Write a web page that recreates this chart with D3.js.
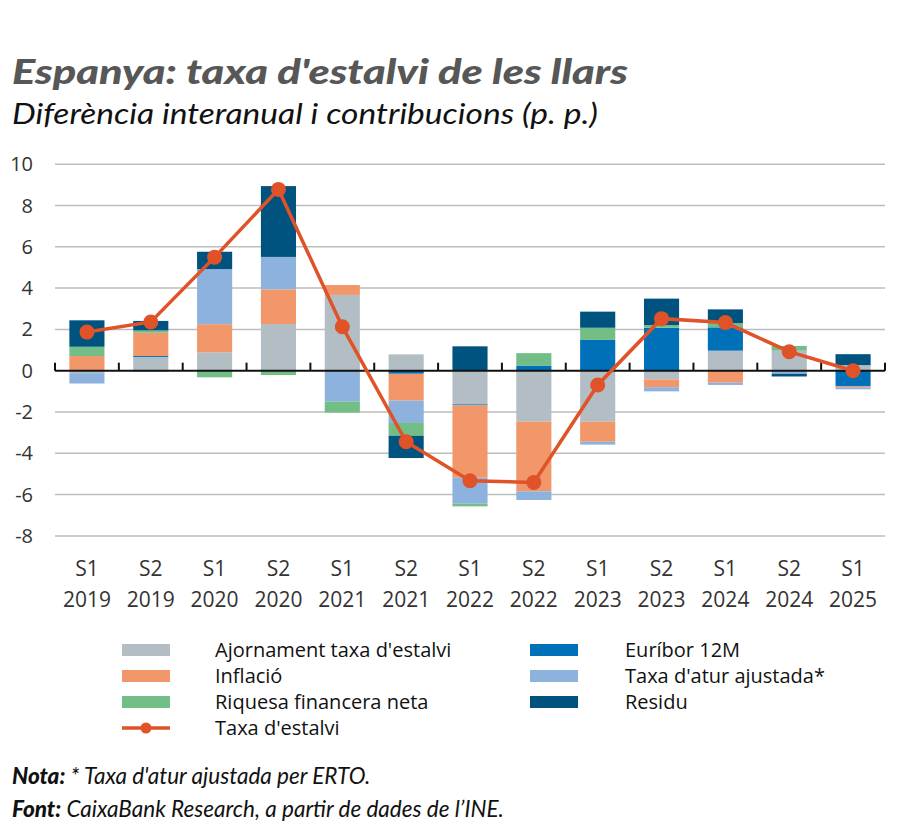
<!DOCTYPE html>
<html><head><meta charset="utf-8">
<script src="https://cdn.jsdelivr.net/npm/d3@7"></script>
<style>
body{margin:0;background:#fff;}
svg{display:block;}
</style></head>
<body>
<script>
const categories = ["S1 2019","S2 2019","S1 2020","S2 2020","S1 2021","S2 2021","S1 2022","S2 2022","S1 2023","S2 2023","S1 2024","S2 2024","S1 2025"];
const ajornament = [-0.12, 0.66, 0.89, 2.26, 3.67, 0.79, -1.63, -2.47, -2.47, -0.42, 0.97, 0.97, 0.27];
const euribor    = [0, 0.05, 0, 0, 0, -0.15, -0.05, 0.25, 1.49, 2.08, 1.13, 0, -0.74];
const inflacio   = [0.71, 1.13, 1.36, 1.68, 0.48, -1.3, -3.5, -3.37, -0.97, -0.38, -0.58, 0, -0.06];
const atur       = [-0.5, -0.05, 2.67, 1.57, -1.5, -1.08, -1.26, -0.42, -0.14, -0.2, -0.11, -0.15, -0.1];
const riquesa    = [0.45, 0.11, -0.32, -0.21, -0.53, -0.62, -0.13, 0.6, 0.59, 0.13, 0.2, 0.23, 0];
const residu     = [1.28, 0.46, 0.84, 3.43, 0, -1.08, 1.18, 0, 0.78, 1.28, 0.67, -0.13, 0.53];
const taxaEstalvi = [1.87, 2.36, 5.5, 8.78, 2.13, -3.44, -5.33, -5.41, -0.69, 2.52, 2.33, 0.92, 0.0];
const yTicks = [10, 8, 6, 4, 2, 0, -2, -4, -6, -8];

const seriesKeys = ["ajornament","euribor","inflacio","atur","riquesa","residu"];
const seriesData = {ajornament, euribor, inflacio, atur, riquesa, residu};
const seriesNames = {ajornament:"Ajornament taxa d'estalvi", inflacio:"Inflació", riquesa:"Riquesa financera neta", euribor:"Euríbor 12M", atur:"Taxa d'atur ajustada*", residu:"Residu"};
const colors = {ajornament:"#b3bec4", inflacio:"#f2976a", riquesa:"#72be86", euribor:"#0071b9", atur:"#8db2de", residu:"#00537f"};
const lineColor = "#e05228";

const W = 900, H = 833;
const svg = d3.select("body").append("svg").attr("width", W).attr("height", H);

// Title
svg.append("text").attr("x", 12).attr("y", 84)
  .attr("font-family", "Lato, 'Open Sans', sans-serif").attr("font-weight", 900).attr("font-style", "italic")
  .attr("font-size", 35).attr("fill", "#575757")
  .attr("textLength", 616).attr("lengthAdjust", "spacingAndGlyphs")
  .text("Espanya: taxa d'estalvi de les llars");
svg.append("text").attr("x", 12).attr("y", 124)
  .attr("font-family", "Lato, 'Open Sans', sans-serif").attr("font-style", "italic")
  .attr("font-size", 28).attr("fill", "#111")
  .attr("textLength", 586).attr("lengthAdjust", "spacingAndGlyphs")
  .text("Diferència interanual i contribucions (p. p.)");

const x0 = 55, x1 = 885;
const x = d3.scaleBand().domain(categories).range([x0, x1]).paddingInner(0.45).paddingOuter(0.225);
const y = d3.scaleLinear().domain([-8, 10]).range([535.9, 164.2]);

// gridlines
svg.append("g").selectAll("line").data(yTicks.filter(d => d !== 0)).join("line")
  .attr("x1", x0).attr("x2", x1).attr("y1", d => y(d)).attr("y2", d => y(d))
  .attr("stroke", "#bdbdbd").attr("stroke-width", 1.5);

// y labels
svg.append("g").selectAll("text").data(yTicks).join("text")
  .attr("x", 33).attr("y", d => y(d) + 7).attr("text-anchor", "end")
  .attr("font-family", "'Open Sans', sans-serif").attr("font-size", 20).attr("fill", "#333")
  .text(d => d);

// stacked bars
const rows = categories.map((c, i) => {
  const r = {cat: c};
  seriesKeys.forEach(k => r[k] = seriesData[k][i]);
  return r;
});
const stack = d3.stack().keys(seriesKeys).offset(d3.stackOffsetDiverging)(rows);
svg.append("g").selectAll("g").data(stack).join("g")
  .attr("fill", d => colors[d.key])
  .selectAll("rect").data(d => d).join("rect")
  .attr("x", d => x(d.data.cat)).attr("width", x.bandwidth())
  .attr("y", d => y(Math.max(d[0], d[1])))
  .attr("height", d => Math.abs(y(d[0]) - y(d[1])));

// zero axis
const step = x.step();
svg.append("line").attr("x1", x0).attr("x2", x1).attr("y1", y(0)).attr("y2", y(0))
  .attr("stroke", "#111").attr("stroke-width", 2);
svg.append("g").selectAll("line").data(d3.range(categories.length + 1)).join("line")
  .attr("x1", i => x0 + i * step).attr("x2", i => x0 + i * step)
  .attr("y1", y(0)).attr("y2", y(0) - 8)
  .attr("stroke", "#111").attr("stroke-width", 2);

// x labels
const xl = svg.append("g").selectAll("text").data(categories).join("text")
  .attr("text-anchor", "middle")
  .attr("font-family", "'Open Sans', sans-serif").attr("font-size", 21).attr("fill", "#333");
xl.append("tspan").attr("x", d => x(d) + x.bandwidth() / 2).attr("y", 576).text(d => d.split(" ")[0]);
xl.append("tspan").attr("x", d => x(d) + x.bandwidth() / 2).attr("y", 607).text(d => d.split(" ")[1]);

// line
const cx = c => x(c) + x.bandwidth() / 2;
svg.append("path").datum(taxaEstalvi)
  .attr("fill", "none").attr("stroke", lineColor).attr("stroke-width", 3.5)
  .attr("d", d3.line().x((d, i) => cx(categories[i])).y(d => y(d)));
svg.append("g").selectAll("circle").data(taxaEstalvi).join("circle")
  .attr("cx", (d, i) => cx(categories[i])).attr("cy", d => y(d)).attr("r", 7.5)
  .attr("fill", lineColor);

// legend
const legendLeft = ["ajornament","inflacio","riquesa"];
const legendRight = ["euribor","atur","residu"];
const lg = svg.append("g").attr("font-family", "'Open Sans', sans-serif").attr("font-size", 20).attr("fill", "#111");
const rowsY = [650, 676, 702, 728];
legendLeft.forEach((k, i) => {
  lg.append("rect").attr("x", 122).attr("y", rowsY[i] - 6).attr("width", 48).attr("height", 12).attr("fill", colors[k]);
  lg.append("text").attr("x", 215).attr("y", rowsY[i] + 7).text(seriesNames[k]);
});
legendRight.forEach((k, i) => {
  lg.append("rect").attr("x", 530).attr("y", rowsY[i] - 6).attr("width", 48).attr("height", 12).attr("fill", colors[k]);
  lg.append("text").attr("x", 625).attr("y", rowsY[i] + 7).text(seriesNames[k]);
});
lg.append("line").attr("x1", 122).attr("x2", 170).attr("y1", rowsY[3]).attr("y2", rowsY[3]).attr("stroke", lineColor).attr("stroke-width", 3.5);
lg.append("circle").attr("cx", 146).attr("cy", rowsY[3]).attr("r", 5.5).attr("fill", lineColor);
lg.append("text").attr("x", 215).attr("y", rowsY[3] + 7).text("Taxa d'estalvi");

// notes
const notes = svg.append("g").attr("font-family", "Lato, 'Open Sans', sans-serif").attr("font-size", 22.5).attr("font-style", "italic").attr("fill", "#111");
const n1 = notes.append("text").attr("x", 12).attr("y", 784);
n1.append("tspan").attr("font-weight", 900).text("Nota:");
n1.append("tspan").text(" * Taxa d'atur ajustada per ERTO.");
const n2 = notes.append("text").attr("x", 12).attr("y", 817);
n2.append("tspan").attr("font-weight", 900).text("Font:");
n2.append("tspan").text(" CaixaBank Research, a partir de dades de l’INE.");
</script>
</body></html>
